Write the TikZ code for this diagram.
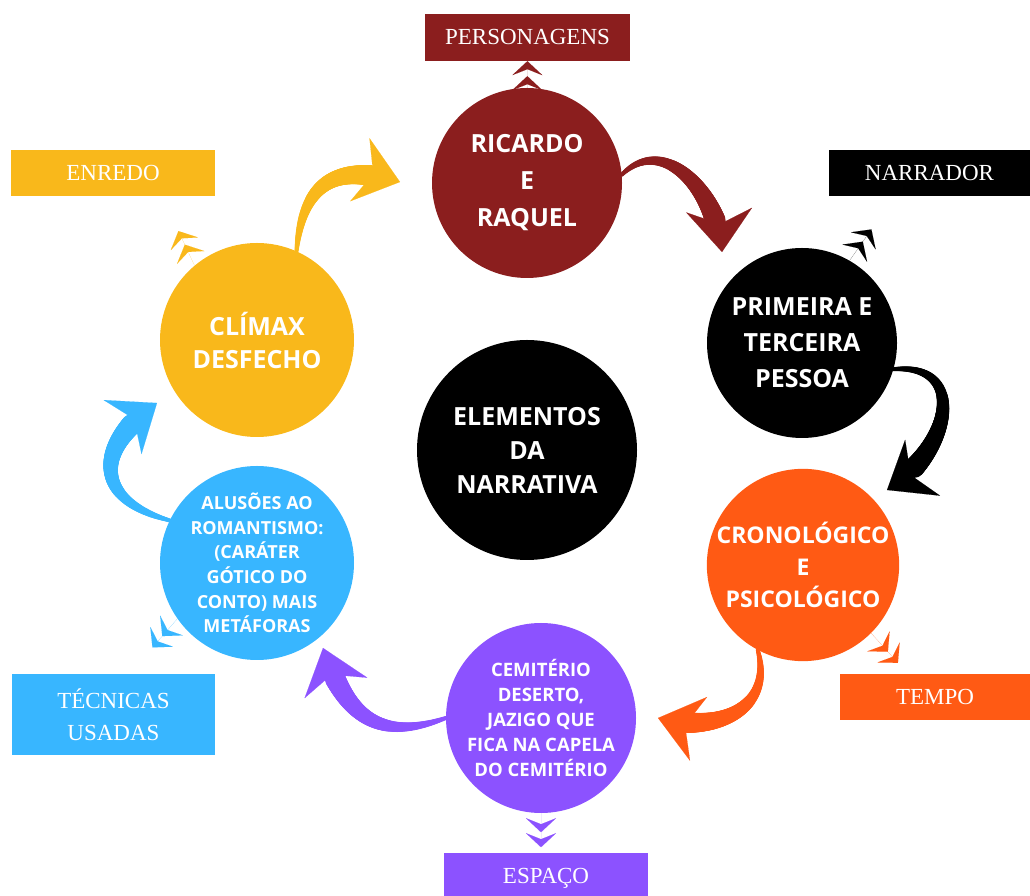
\documentclass[tikz,border=0pt]{standalone}
\usepackage{fontspec}
\setmainfont{Liberation Serif}
\newfontfamily\circfont{Open Sans}
\usetikzlibrary{arrows.meta,decorations.markings}
\definecolor{PersonClr}{rgb}{0.545,0.118,0.118}
\definecolor{EnredoClr}{rgb}{0.976,0.722,0.106}
\definecolor{TempoClr}{rgb}{1,0.353,0.078}
\definecolor{EspacoClr}{rgb}{0.549,0.322,1}
\definecolor{TecnicaClr}{rgb}{0.22,0.714,1}

\tikzset{
  circ/.style={circle,fill=#1,text=white,align=center,inner sep=0pt,
    minimum size=190pt,font=\circfont\bfseries\fontsize{25}{36}\selectfont},
  lbl/.style={rectangle,fill=#1,text=white,align=center,inner sep=0pt,
    minimum width=204pt,minimum height=46pt,font=\fontsize{23}{32}\selectfont},
  chev/.style={draw=#1,line width=.01pt,
    -{Stealth[length=14pt,width=30pt,inset=6pt,sep=1pt]
      Stealth[length=14pt,width=30pt,inset=6pt]}},
  taper/.style={draw=#1,line width=.1pt,
    -{Stealth[length=42pt,width=66pt,inset=14pt]},
    postaction={-,decorate,decoration={markings,
      mark=between positions 0 and 0.8 step 1pt with
      {\fill[#1] (0,0) circle
        ({2+10.5*\pgfkeysvalueof{/pgf/decoration/mark info/distance from start}/\pgfdecoratedpathlength});}}}}
}

\begin{document}
\begin{tikzpicture}[x=1pt,y=1pt]
\useasboundingbox (0,0) rectangle (1030,896);

\node[circ=PersonClr,font=\circfont\bfseries\fontsize{25}{37}\selectfont] (ricardo) at (527,713) {RICARDO\\E\\RAQUEL};
\node[circ=black] (primeira) at (802,553) {PRIMEIRA E\\TERCEIRA\\PESSOA};
\node[circ=TempoClr,font=\circfont\bfseries\fontsize{23}{32}\selectfont] (crono) at (803,331) {CRONOLÓGICO\\E\\PSICOLÓGICO};
\node[circ=EspacoClr,font=\circfont\bfseries\fontsize{18.5}{25}\selectfont] (cemit) at (541,178) {CEMITÉRIO\\DESERTO,\\JAZIGO QUE\\FICA NA CAPELA\\DO CEMITÉRIO};
\node[circ=TecnicaClr,minimum size=194pt,font=\circfont\bfseries\fontsize{18}{24.6}\selectfont] (alusoes) at (257,333) {ALUSÕES AO\\ROMANTISMO:\\(CARÁTER\\GÓTICO DO\\CONTO) MAIS\\METÁFORAS};
\node[circ=EnredoClr,minimum size=194pt,font=\circfont\bfseries\fontsize{25}{33}\selectfont] (climax) at (257,556) {CLÍMAX\\DESFECHO};
\node[circ=black,minimum size=220pt,font=\circfont\bfseries\fontsize{25}{34}\selectfont] (centro) at (527,446) {ELEMENTOS\\DA\\NARRATIVA};

\node[lbl=PersonClr,minimum width=205pt,minimum height=47pt] (pers) at (527.5,858.5) {PERSONAGENS};
\node[lbl=black,minimum width=201pt] (narr) at (929.5,723) {NARRADOR};
\node[lbl=EnredoClr] (enredo) at (113,723) {ENREDO};
\node[lbl=TempoClr,minimum width=190pt] (tempo) at (935,199) {TEMPO};
\node[lbl=TecnicaClr,minimum width=203pt,minimum height=81pt] (tecnicas) at (113.5,181.5) {TÉCNICAS\\USADAS};
\node[lbl=EspacoClr,minimum height=51pt] (espaco) at (546,17.5) {ESPAÇO};

\draw[chev=PersonClr] (ricardo) -- (pers);
\draw[chev=black] (primeira.60) -- ++(55:38);
\draw[chev=EnredoClr] (climax.130) -- ++(115:38);
\draw[chev=TempoClr] (crono.-45) -- ++(-48:40);
\draw[chev=TecnicaClr] (alusoes.215) -- ++(229:38);
\draw[chev=EspacoClr] (cemit.south) -- ++(0,-34);

\coordinate (tipA) at (722,644);
\coordinate (tipB) at (887,406);
\coordinate (tipC) at (658,178);
\coordinate (tipD) at (323,248);
\coordinate (tipE) at (157,493);
\coordinate (tipF) at (400,714);

\draw[taper=PersonClr] (ricardo.5) to[out=45,in=94,looseness=1.2] (tipA);
\draw[taper=black] (primeira.-16) to[out=5,in=32,looseness=1.6] (tipB);
\draw[taper=TempoClr] (crono.242) to[out=-75,in=345,looseness=1.3] (tipC);
\draw[taper=EspacoClr] (cemit.180) to[out=200,in=288,looseness=1.3] (tipD);
\draw[taper=TecnicaClr] (alusoes.154) to[out=165,in=215,looseness=1.7] (tipE);
\draw[taper=EnredoClr] (climax.66) to[out=85,in=163,looseness=1.4] (tipF);

\end{tikzpicture}
\end{document}
